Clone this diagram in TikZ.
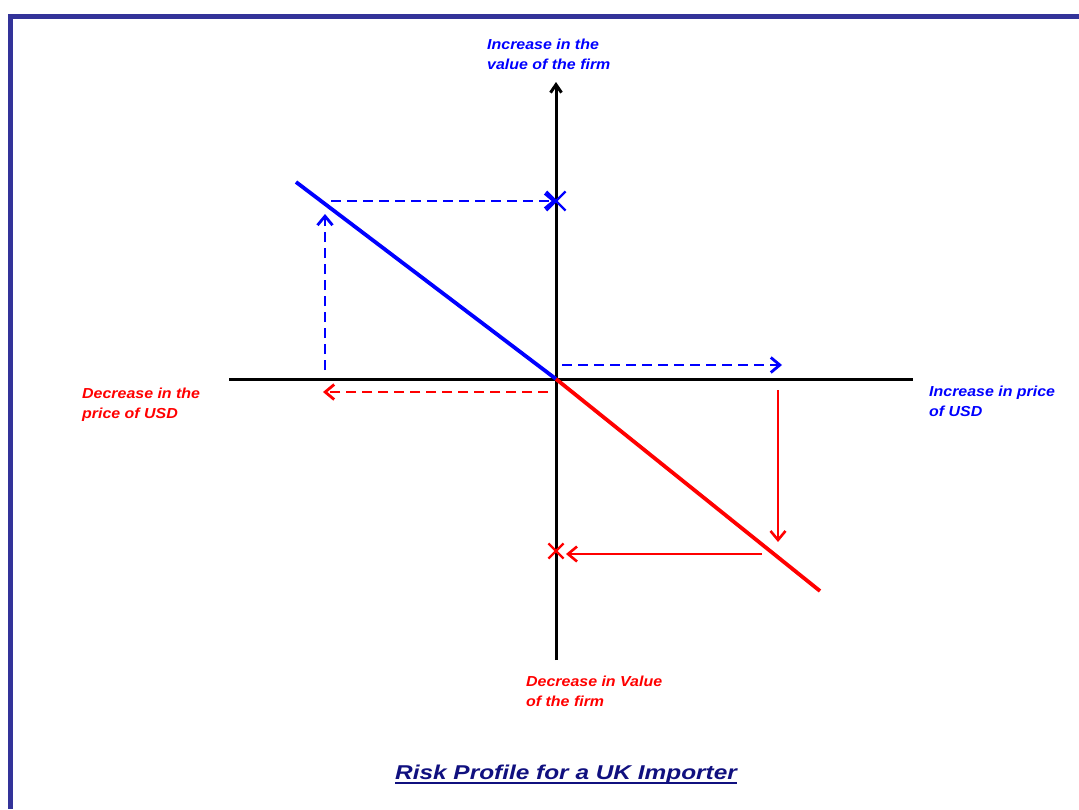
\documentclass[tikz,border=0pt]{standalone}
\usepackage{fontspec}
\setmainfont{Liberation Sans}
\newfontfamily\fontetich[FakeStretch=1.1]{Liberation Sans}
\newfontfamily\fonttitolo[FakeStretch=1.22]{Liberation Sans}
\usepackage{xcolor}
\usetikzlibrary{arrows.meta,shapes.misc}
\definecolor{cornice}{HTML}{333399}
\definecolor{titolo}{HTML}{10107F}
\definecolor{blu}{HTML}{0000FF}
\definecolor{rosso}{HTML}{FF0000}

\begin{document}
\begin{tikzpicture}[x=1pt, y=-1pt, >={Straight Barb[length=9pt,width=15pt]},
  etichetta/.style={inner sep=0pt, anchor=base west, align=left,
    font=\fontsize{14.5}{20}\fontetich\bfseries\itshape},
  tratteggio/.style={dash pattern=on 10pt off 6pt, line width=2.8pt},
  freccia/.style={line width=2.6pt},
  croce/.style={draw, cross out, inner sep=0pt, line width=2.2pt}]
  \useasboundingbox (0,0) rectangle (1079,809);

  % Cornice
  \fill[cornice] (8,14) rectangle (1079,19);
  \fill[cornice] (8,14) rectangle (13,809);

  % Punti
  \coordinate (O) at (556,379);
  \coordinate (xsx) at (229,379);
  \coordinate (xdx) at (913,379);
  \coordinate (ygiu) at (556,660);
  \coordinate (ysu) at (556,82);
  \coordinate (blufine) at (296,182);
  \coordinate (rossofine) at (820,591);

  % Assi
  \draw[line width=3pt] (xsx) -- (xdx);
  \draw[line width=3pt, -{Straight Barb[length=8pt,width=11pt]}] (ygiu) -- (ysu);

  % Rette
  \draw[blu, line width=3.8pt] (blufine) -- (O);
  \draw[rosso, line width=3.8pt] (O) -- (rossofine);

  % Croci sull'asse
  \node[croce, blu, minimum size=17pt] (xblu) at (556,201) {};
  \node[croce, rosso, minimum size=13pt] (xrosso) at (556,551) {};

  % Frecce blu tratteggiate
  \coordinate (b1) at (325,370);
  \coordinate (b2) at (325,214);
  \coordinate (b3) at (331,201);
  \coordinate (b4) at (562,365);
  \coordinate (b5) at (782,365);
  \draw[blu, tratteggio, ->] (b1) -- (b2);
  \draw[blu, tratteggio, ->] (b3) -- (xblu.center);
  \draw[blu, tratteggio, ->] (b4) -- (b5);

  % Frecce rosse
  \coordinate (r1) at (548,392);
  \coordinate (r2) at (323,392);
  \coordinate (r3) at (778,390);
  \coordinate (r4) at (778,542);
  \coordinate (r5) at (762,554);
  \coordinate (r6) at (566,554);
  \draw[rosso, tratteggio, ->] (r1) -- (r2);
  \draw[rosso, freccia, ->] (r3) -- (r4);
  \draw[rosso, freccia, ->] (r5) -- (r6);

  % Etichette (base = ultima riga)
  \node[etichetta, blu] (valsu) at (487,69) {Increase in the\\value of the firm};
  \node[etichetta, rosso] (prezzogiu) at (82,418) {Decrease in the\\price of USD};
  \node[etichetta, blu] (prezzosu) at (929,416) {Increase in price\\of USD};
  \node[etichetta, rosso] (valgiu) at (526,706) {Decrease in Value\\of the firm};

  % Titolo
  \node[inner sep=0pt, anchor=base west, titolo,
    font=\fontsize{20}{24}\fonttitolo\bfseries\itshape] (tit) at (395,779)
    {Risk Profile for a UK Importer};
  \draw[titolo, line width=1.8pt] ([yshift=-4pt]tit.base west) -- ([yshift=-4pt]tit.base east);
\end{tikzpicture}
\end{document}
